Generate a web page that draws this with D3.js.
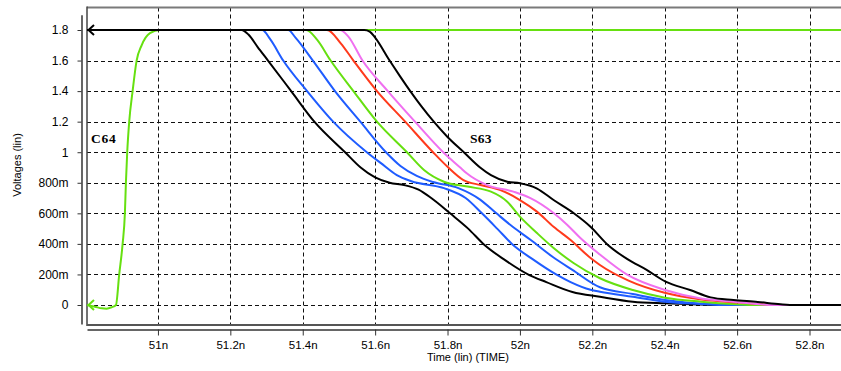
<!DOCTYPE html>
<html><head><meta charset="utf-8">
<script src="https://cdn.jsdelivr.net/npm/d3@7"></script>
<style>
body{margin:0;background:#fff;}
svg{display:block;}
text{font-family:Arial,"Liberation Sans",sans-serif;}
</style>
</head><body>
<svg id="chart" width="841" height="371"></svg>
<script>
// ---- data (time in ns, voltage in V) ----
const xTickValues = [51, 51.2, 51.4, 51.6, 51.8, 52, 52.2, 52.4, 52.6, 52.8];
const xTickLabels = ["51n","51.2n","51.4n","51.6n","51.8n","52n","52.2n","52.4n","52.6n","52.8n"];
const yTickValues = [0, 0.2, 0.4, 0.6, 0.8, 1.0, 1.2, 1.4, 1.6, 1.8];
const yTickLabels = ["0","200m","400m","600m","800m","1","1.2","1.4","1.6","1.8"];
const xTitle = "Time (lin) (TIME)";
const yTitle = "Voltages (lin)";
const labelNames = ["C64", "S63"];

const c64 = [[50.804,0],[50.826,-0.011],[50.845,-0.022],[50.858,-0.024],[50.872,-0.015],[50.884,0],
  [50.893,0.2],[50.9024,0.4],[50.9087,0.6],[50.9115,0.8],[50.9151,1.0],[50.9206,1.2],[50.93,1.4],
  [50.9411,1.6],[50.9549,1.7],[50.9779,1.78],[51.005,1.8],[52.887,1.8]];

const s63Black1 = [[50.804,1.8],[51.231,1.8],[51.25,1.77],[51.275,1.69],[51.304,1.6],[51.368,1.4],
  [51.432,1.2],[51.517,1.0],[51.56,0.9],[51.60,0.835],[51.64,0.8],[51.68,0.785],[51.72,0.755],
  [51.755,0.7],[51.807,0.6],[51.857,0.5],[51.899,0.4],[51.955,0.3],[52.026,0.196],[52.073,0.15],
  [52.145,0.085],[52.221,0.054],[52.312,0.022],[52.4,0.011],[52.5,0.003],[52.55,0],[52.887,0]];

const s63Blue1 = [[50.804,1.8],[51.288,1.8],[51.31,1.74],[51.346,1.6],[51.412,1.4],[51.484,1.2],
  [51.577,1.0],[51.615,0.93],[51.66,0.85],[51.70,0.81],[51.79,0.765],[51.85,0.70],[51.895,0.6],
  [51.937,0.5],[51.978,0.4],[52.035,0.3],[52.10,0.2],[52.14,0.15],[52.195,0.1],[52.221,0.087],
  [52.312,0.054],[52.401,0.022],[52.497,0.007],[52.56,0],[52.887,0]];

const s63Blue2 = [[50.804,1.8],[51.36,1.8],[51.38,1.75],[51.428,1.6],[51.489,1.4],[51.559,1.2],
  [51.63,1.0],[51.67,0.91],[51.715,0.845],[51.76,0.805],[51.83,0.765],[51.89,0.69],[51.935,0.6],
  [51.98,0.512],[52.03,0.425],[52.09,0.316],[52.145,0.23],[52.221,0.116],[52.312,0.072],
  [52.401,0.033],[52.53,0.005],[52.6,0],[52.887,0]];

const s63Green = [[50.804,1.8],[51.41,1.8],[51.44,1.735],[51.477,1.6],[51.54,1.4],[51.605,1.2],
  [51.688,1.0],[51.735,0.884],[51.79,0.807],[51.855,0.775],[51.92,0.742],
  [51.965,0.676],[52.0,0.578],[52.047,0.471],[52.093,0.373],[52.148,0.275],[52.221,0.175],
  [52.312,0.098],[52.401,0.048],[52.5,0.022],[52.6,0.005],[52.65,0],[52.887,0]];

const s63Red = [[50.804,1.8],[51.467,1.8],[51.505,1.713],[51.54,1.6],[51.605,1.4],[51.683,1.2],
  [51.76,1.0],[51.80,0.905],[51.844,0.818],
  [51.891,0.785],[51.946,0.752],[52.0,0.687],[52.047,0.611],[52.093,0.512],[52.14,0.425],
  [52.196,0.306],[52.221,0.262],[52.30,0.16],[52.40,0.08],[52.497,0.037],[52.608,0.016],[52.72,0],[52.887,0]];

const s63Magenta = [[50.804,1.8],[51.503,1.8],[51.525,1.76],[51.565,1.6],[51.635,1.4],[51.71,1.2],
  [51.788,1.0],[51.835,0.9],[51.853,0.862],[51.909,0.785],[51.982,0.742],
  [52.029,0.70],[52.093,0.602],[52.131,0.524],[52.167,0.438],[52.221,0.33],[52.295,0.2],
  [52.401,0.098],[52.497,0.044],[52.588,0.022],[52.663,0.005],[52.7,0],[52.887,0]];

const s63Black2 = [[50.804,1.8],[51.57,1.8],[51.585,1.79],[51.60,1.75],[51.64,1.6],[51.668,1.50],
  [51.697,1.40],[51.728,1.30],[51.762,1.20],[51.80,1.10],[51.845,1.0],[51.89,0.9],[51.92,0.85],
  [51.965,0.807],[52.0,0.797],[52.046,0.764],[52.093,0.687],[52.148,0.602],[52.195,0.512],
  [52.24,0.40],[52.297,0.30],[52.35,0.23],[52.4025,0.153],[52.47,0.098],[52.527,0.05],[52.59,0.033],
  [52.657,0.02],[52.72,0.005],[52.76,0],[52.887,0]];

const seriesList = [c64, s63Black1, s63Blue1, s63Blue2, s63Green, s63Red, s63Magenta, s63Black2];
const seriesColors = ["#66e010","#000000","#1f5cff","#1f5cff","#66e010","#ff3a1c","#f070f0","#000000"];

// ---- layout ----
const svg = d3.select("#chart");
const L = 87, R = 841, T = 7.5, B = 325;
const x = d3.scaleLinear().domain([50.804, 52.887]).range([L, R]);
const y = d3.scaleLinear().domain([0, 1.8]).range([305, 30]);

svg.append("rect").attr("width",841).attr("height",371).attr("fill","#fff");

svg.append("defs").append("clipPath").attr("id","plotclip")
  .append("rect").attr("x",L).attr("y",T).attr("width",R-L).attr("height",B-T);

// grid
const grid = svg.append("g").attr("stroke","#111").attr("stroke-width",1).attr("stroke-dasharray","4,3");
yTickValues.forEach(v => {
  const yy = Math.round(y(v)) + 0.5;
  grid.append("line").attr("x1",L).attr("x2",R).attr("y1",yy).attr("y2",yy);
});
xTickValues.forEach(v => {
  const xx = Math.round(x(v)) + 0.5;
  grid.append("line").attr("x1",xx).attr("x2",xx).attr("y1",T).attr("y2",B);
});

// frame
svg.append("line").attr("x1",L).attr("x2",R).attr("y1",T).attr("y2",T).attr("stroke","#7a7a7a").attr("stroke-width",2);
svg.append("line").attr("x1",L).attr("x2",L).attr("y1",T-1).attr("y2",B+1).attr("stroke","#444").attr("stroke-width",1.5);
svg.append("line").attr("x1",L).attr("x2",R).attr("y1",B).attr("y2",B).attr("stroke","#555").attr("stroke-width",2);

// curves
const line = d3.line().x(d => x(d[0])).y(d => y(d[1])).curve(d3.curveMonotoneX);
const plot = svg.append("g").attr("clip-path","url(#plotclip)");
seriesList.forEach((s, i) => {
  plot.append("path").datum(s).attr("d", line).attr("fill","none")
    .attr("stroke", seriesColors[i]).attr("stroke-width", 2).attr("stroke-linejoin","round");
});

// arrows at left ends
function arrow(v, color) {
  const yy = y(v);
  svg.append("path").attr("d", `M${L+7},${yy-5}L${L+1.5},${yy}L${L+7},${yy+5}`)
    .attr("fill","none").attr("stroke",color).attr("stroke-width",2);
}
arrow(1.8, "#000");
arrow(0, "#66e010");

// labels
const labFont = "'Liberation Serif','DejaVu Serif',serif";
svg.append("text").attr("x",91).attr("y",143).text(labelNames[0])
  .style("font-family",labFont).style("font-weight","bold").style("font-size","13.5px").style("letter-spacing","0.8px");
svg.append("text").attr("x",470).attr("y",143).text(labelNames[1])
  .style("font-family",labFont).style("font-weight","bold").style("font-size","13.5px").style("letter-spacing","0.3px");

// x axis
const xAxisG = svg.append("g").attr("transform","translate(0,329.5)");
xAxisG.call(d3.axisBottom(x).tickValues(d3.range(50.8, 52.9, 0.02).filter(t => t >= 50.8 && t <= 52.886))
  .tickSize(3).tickSizeOuter(0).tickFormat(""));
xAxisG.call(d3.axisBottom(x).tickValues(xTickValues).tickSize(6).tickSizeOuter(0).tickPadding(5)
  .tickFormat((d,i) => xTickLabels[i]));
xAxisG.selectAll("path.domain").attr("stroke","#333").attr("stroke-width",1.5);
xAxisG.selectAll("line").attr("stroke","#333");
xAxisG.selectAll("text").style("font-size","11.5px").attr("fill","#000").style("font-family","Arial,'Liberation Sans',sans-serif");

// y axis
const y2 = d3.scaleLinear().domain([-0.124, 1.9]).range([y(-0.124), y(1.9)]);
const yAxisG = svg.append("g").attr("transform","translate(81.5,0)");
yAxisG.call(d3.axisLeft(y2).tickValues(d3.range(-0.1, 1.95, 0.1)).tickSize(4).tickSizeOuter(0).tickFormat(""));
yAxisG.call(d3.axisLeft(y2).tickValues(yTickValues).tickSize(4).tickSizeOuter(0).tickPadding(9)
  .tickFormat((d,i) => yTickLabels[i]));
yAxisG.selectAll("path.domain").attr("stroke","#333").attr("stroke-width",1.5);
yAxisG.selectAll("line").attr("stroke","#333");
yAxisG.selectAll("text").style("font-size","12px").attr("fill","#000").style("font-family","Arial,'Liberation Sans',sans-serif");

// titles
svg.append("text").attr("x",468).attr("y",361).attr("text-anchor","middle")
  .style("font-size","11px").text(xTitle);
svg.append("text").attr("transform","translate(21,165) rotate(-90)").attr("text-anchor","middle")
  .style("font-size","11px").text(yTitle);
</script>
</body></html>
